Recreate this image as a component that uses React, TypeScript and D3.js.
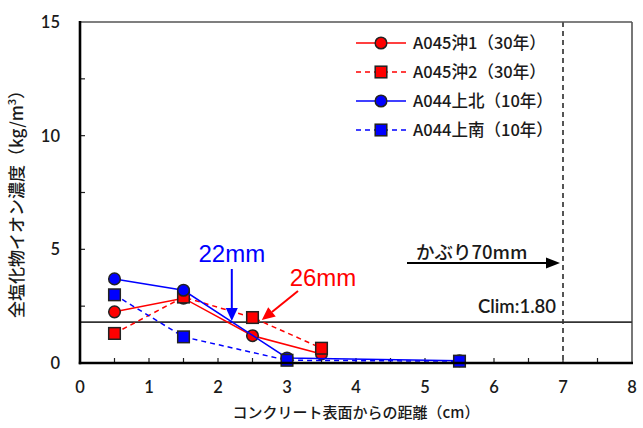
import React from "react";
import * as d3 from "d3";

// ---- data ----
const xA045 = [0.5, 1.5, 2.5, 3.5];
const yA045oki1 = [2.25, 2.85, 1.2, 0.4];
const yA045oki2 = [1.3, 2.9, 2.0, 0.65];
const xA044 = [0.5, 1.5, 3.0, 5.5];
const yA044kitakita = [3.7, 3.2, 0.22, 0.1];
const yA044minami = [3.0, 1.15, 0.12, 0.08];
const seriesNames = ["A045沖1（30年）", "A045沖2（30年）", "A044上北（10年）", "A044上南（10年）"];
const xTickLabels = [0, 1, 2, 3, 4, 5, 6, 7, 8];
const yTickLabels = [0, 5, 10, 15];
const xMinorTicks = [0.5, 1, 1.5, 2, 2.5, 3, 3.5, 4, 4.5, 5, 5.5, 6, 6.5, 7, 7.5];
const yMinorTicks = [2.5, 5, 7.5, 10, 12.5];
const climValue = 1.8;
const coverDepth = 7;
const blueCross = 2.2;
const redCross = 2.65;

const W = 643, H = 428;
const left = 80, right = 632, top = 22, bottom = 363;

const x = d3.scaleLinear().domain([0, 8]).range([left, right]);
const y = d3.scaleLinear().domain([0, 15]).range([bottom, top]);

const RED = "#ff0000";
const BLUE = "#0000ff";
const latin = "Lato, 'Open Sans', sans-serif";
const cjk = "'Noto Sans CJK JP', sans-serif";
const arial = "'Liberation Sans', Arial, sans-serif";

type Series = { name: string; xs: number[]; ys: number[]; color: string; dashed: boolean; marker: "circle" | "square" };
const series: Series[] = [
  { name: seriesNames[0], xs: xA045, ys: yA045oki1, color: RED, dashed: false, marker: "circle" },
  { name: seriesNames[1], xs: xA045, ys: yA045oki2, color: RED, dashed: true, marker: "square" },
  { name: seriesNames[2], xs: xA044, ys: yA044kitakita, color: BLUE, dashed: false, marker: "circle" },
  { name: seriesNames[3], xs: xA044, ys: yA044minami, color: BLUE, dashed: true, marker: "square" },
];

function Marker({ kind, cx, cy, color }: { kind: string; cx: number; cy: number; color: string }) {
  if (kind === "circle") {
    return <circle cx={cx} cy={cy} r={5.8} fill={color} stroke="#222" strokeWidth={1.5} />;
  }
  return <rect x={cx - 5.8} y={cy - 5.8} width={11.6} height={11.6} fill={color} stroke="#222" strokeWidth={1.5} />;
}

function Arrow({ x1, y1, x2, y2, color, head = 13, width = 12, sw = 2 }: any) {
  const ang = Math.atan2(y2 - y1, x2 - x1);
  const bx = x2 - head * Math.cos(ang);
  const by = y2 - head * Math.sin(ang);
  const px = -Math.sin(ang) * width / 2;
  const py = Math.cos(ang) * width / 2;
  return (
    <g>
      <line x1={x1} y1={y1} x2={bx} y2={by} stroke={color} strokeWidth={sw} />
      <polygon points={`${x2},${y2} ${bx + px},${by + py} ${bx - px},${by - py}`} fill={color} />
    </g>
  );
}

export default function App() {
  const line = d3.line<[number, number]>().x(d => x(d[0])).y(d => y(d[1]));
  const climY = y(climValue);
  return (
    <svg width={W} height={H} style={{ position: "absolute", left: 0, top: 0, background: "#fff" }}>
      <rect x={0} y={0} width={W} height={H} fill="#fff" />
      {/* frame top/right */}
      <line x1={left} y1={top} x2={right} y2={top} stroke="#555" strokeWidth={1.6} />
      <line x1={right} y1={top} x2={right} y2={bottom} stroke="#555" strokeWidth={1.6} />
      {/* ticks */}
      {xMinorTicks.map(t => (
        <line key={"xt" + t} x1={x(t)} x2={x(t)} y1={bottom} y2={bottom - 5} stroke="#222" strokeWidth={1.2} />
      ))}
      {yMinorTicks.map(t => (
        <line key={"yt" + t} x1={left} x2={left + 5} y1={y(t)} y2={y(t)} stroke="#222" strokeWidth={1.2} />
      ))}
      {/* cover depth dashed line */}
      <line x1={x(coverDepth)} x2={x(coverDepth)} y1={top} y2={bottom} stroke="#555" strokeWidth={2} strokeDasharray="5,4" />
      {/* Clim line */}
      <line x1={left} x2={right} y1={climY} y2={climY} stroke="#333" strokeWidth={1.6} />
      {/* series */}
      {series.map((s, i) => (
        <g key={"s" + i}>
          <path d={line(s.xs.map((v, j) => [v, s.ys[j]] as [number, number])) || ""} fill="none" stroke={s.color}
            strokeWidth={1.5} strokeDasharray={s.dashed ? "5,4" : undefined} />
          {s.xs.map((v, j) => (
            <Marker key={j} kind={s.marker} cx={x(v)} cy={y(s.ys[j])} color={s.color} />
          ))}
        </g>
      ))}
      {/* axes left & bottom */}
      <line x1={left} y1={top - 1} x2={left} y2={bottom + 1.2} stroke="#000" strokeWidth={2.6} />
      <line x1={left - 1.2} y1={bottom} x2={right + 1} y2={bottom} stroke="#000" strokeWidth={2.6} />
      {/* tick labels */}
      {xTickLabels.map(t => (
        <text key={"xl" + t} x={x(t)} y={393} textAnchor="middle" fontFamily={latin} fontWeight={600} fontSize={16.5} fill="#1a1a1a">{t}</text>
      ))}
      {yTickLabels.map(t => (
        <text key={"yl" + t} x={60} y={y(t) + 6} textAnchor="end" fontFamily={latin} fontWeight={600} fontSize={16.5} fill="#1a1a1a">{t}</text>
      ))}
      {/* axis titles */}
      <text x={356} y={418} textAnchor="middle" fontFamily={cjk} fontWeight={500} fontSize={15} fill="#1a1a1a">コンクリート表面からの距離（cm）</text>
      <text transform="translate(23,200) rotate(-90)" textAnchor="middle" fontFamily={cjk} fontWeight={500} fontSize={17} fill="#1a1a1a">
        全塩化物イオン濃度（kg/m<tspan fontSize={11} dy={-7}>3</tspan><tspan dy={7}>）</tspan>
      </text>
      {/* legend */}
      {series.map((s, i) => {
        const ly = 43 + i * 29;
        return (
          <g key={"lg" + i}>
            <line x1={356} x2={406} y1={ly} y2={ly} stroke={s.color} strokeWidth={1.5} strokeDasharray={s.dashed ? "5,4" : undefined} />
            <Marker kind={s.marker} cx={381} cy={ly} color={s.color} />
            <text x={413} y={ly + 6} fontFamily={cjk} fontWeight={500} fontSize={16.5} fill="#1a1a1a">{s.name}</text>
          </g>
        );
      })}
      {/* annotations */}
      <text x={x(blueCross)} y={262} textAnchor="middle" fontFamily={arial} fontSize={24} fill={BLUE}>22mm</text>
      <Arrow x1={x(blueCross)} y1={269} x2={x(blueCross)} y2={climY - 1} color={BLUE} />
      <text x={323} y={286} textAnchor="middle" fontFamily={arial} fontSize={24} fill={RED}>26mm</text>
      <Arrow x1={298} y1={291} x2={x(redCross) - 1} y2={climY - 2} color={RED} />
      <text x={416} y={259} fontFamily={cjk} fontWeight={500} fontSize={18.5} fill="#1a1a1a">かぶり70mm</text>
      <Arrow x1={407} y1={263} x2={x(coverDepth) - 3} y2={263} color="#000" head={14} width={11} sw={2} />
      <text x={556} y={313} textAnchor="end" fontFamily={latin} fontWeight={600} fontSize={18.5} fill="#1a1a1a">Clim:1.80</text>
    </svg>
  );
}
